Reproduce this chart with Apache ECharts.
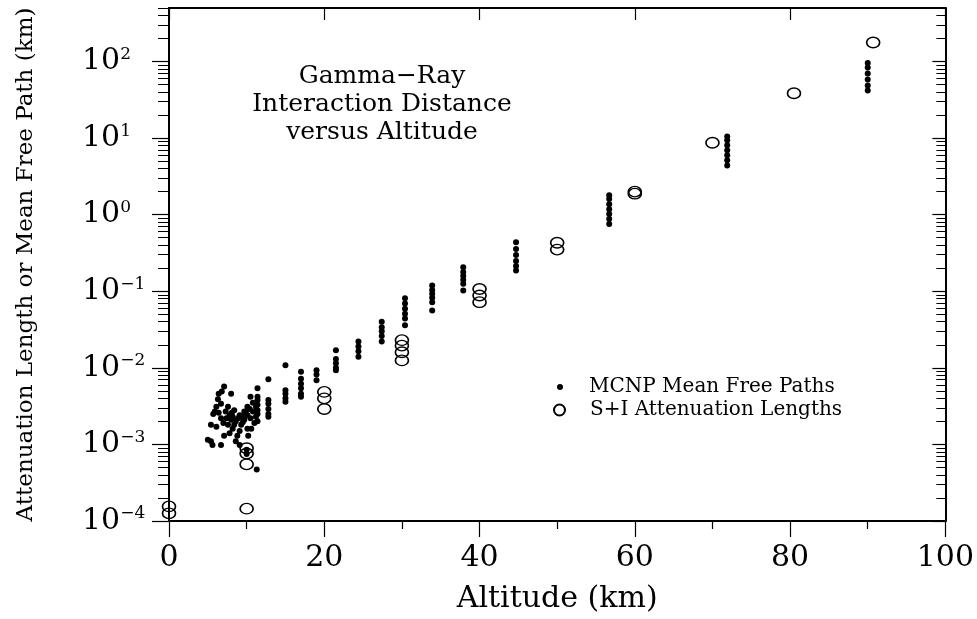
<!DOCTYPE html>
<html>
<head>
<meta charset="utf-8">
<script src="https://cdn.jsdelivr.net/npm/echarts@6/dist/echarts.min.js"></script>
<style>
  html, body { margin: 0; padding: 0; background: #fff; }
  #chart { width: 977px; height: 619px; }
</style>
</head>
<body>
<div id="chart"></div>
<script>
  // MCNP mean free paths (dots)
  const mcnpAlt = [
    7.1, 6.8, 8.0, 11.4, 6.3, 6.7, 11.4, 10.5, 6.1, 7.6, 10.1, 11.2, 5.9, 7.3, 8.4, 9.7, 10.8, 11.4,
    7.8, 8.2, 9.1, 10.1, 6.7, 8.0, 8.6, 9.7, 10.5, 11.2, 5.4, 6.1, 7.6, 8.4, 9.3, 11.0, 8.2, 10.1,
    7.1, 7.8, 8.8, 5.4, 5.6, 6.7, 8.6, 9.1, 11.4, 10.6, 10.2, 5.0, 9.1, 11.3, 10.0, 10.0,
    8.9, 9.4, 9.9, 10.4, 7.4, 8.1, 9.5, 10.8, 11.4, 11.4, 11.4, 6.4, 7.0, 6.4, 5.7,
    12.8, 12.8, 12.8, 12.8, 12.8, 12.8,
    15.0, 15.0, 15.0, 15.0, 15.0,
    17.0, 17.0, 17.0, 17.0, 17.0, 17.0,
    19.0, 19.0, 19.0,
    21.5, 21.5, 21.5, 21.5, 21.5,
    24.4, 24.4, 24.4, 24.4,
    27.4, 27.4, 27.4, 27.4, 27.4,
    30.4, 30.4, 30.4, 30.4, 30.4, 30.4,
    33.9, 33.9, 33.9, 33.9, 33.9, 33.9,
    37.9, 37.9, 37.9, 37.9, 37.9, 37.9,
    44.7, 44.7, 44.7, 44.7, 44.7, 44.7,
    56.7, 56.7, 56.7, 56.7, 56.7, 56.7, 56.7,
    71.9, 71.9, 71.9, 71.9, 71.9, 71.9, 71.9,
    90.0, 90.0, 90.0, 90.0, 90.0, 90.0
  ];
  const mcnpLen = [
    5.7e-3, 4.9e-3, 4.6e-3, 5.4e-3, 3.9e-3, 3.4e-3, 4.2e-3, 4.2e-3, 3.1e-3, 3.1e-3, 3.1e-3, 3.1e-3, 2.7e-3, 2.7e-3, 2.8e-3, 2.7e-3, 2.7e-3, 2.8e-3,
    2.4e-3, 2.3e-3, 2.4e-3, 2.4e-3, 2.2e-3, 2.1e-3, 2.0e-3, 2.1e-3, 2.2e-3, 2.3e-3, 1.8e-3, 1.7e-3, 1.8e-3, 1.8e-3, 1.8e-3, 1.9e-3, 1.6e-3, 1.6e-3,
    1.3e-3, 1.4e-3, 1.3e-3, 1.1e-3, 9.8e-4, 9.8e-4, 1.1e-3, 9.8e-4, 3.8e-3, 1.6e-3, 1.3e-3, 1.15e-3, 1.5e-3, 4.7e-4, 8.5e-4, 7.5e-4,
    2.2e-3, 2.3e-3, 2.6e-3, 2.9e-3, 2.2e-3, 2.6e-3, 1.95e-3, 3.5e-3, 3.3e-3, 2.5e-3, 2.0e-3, 2.6e-3, 1.9e-3, 4.6e-3, 2.5e-3,
    7.1e-3, 3.8e-3, 3.4e-3, 2.9e-3, 2.5e-3, 2.3e-3,
    1.08e-2, 5.1e-3, 4.6e-3, 4.0e-3, 3.6e-3,
    8.9e-3, 7.2e-3, 6.2e-3, 5.4e-3, 4.6e-3, 4.2e-3,
    9.3e-3, 8.2e-3, 6.9e-3,
    1.7e-2, 1.3e-2, 1.15e-2, 1.0e-2, 9.3e-3,
    2.2e-2, 1.9e-2, 1.65e-2, 1.4e-2,
    4.0e-2, 3.4e-2, 3.0e-2, 2.6e-2, 2.2e-2,
    8.1e-2, 6.9e-2, 5.9e-2, 5.1e-2, 4.4e-2, 3.6e-2,
    0.119, 0.104, 0.093, 0.082, 0.072, 0.056,
    0.206, 0.179, 0.159, 0.141, 0.125, 0.102,
    0.435, 0.356, 0.298, 0.249, 0.214, 0.186,
    1.80, 1.60, 1.37, 1.18, 1.02, 0.877, 0.755,
    10.5, 9.35, 8.06, 6.94, 5.98, 5.14, 4.39,
    95.9, 83.5, 69.8, 58.3, 48.7, 41.9
  ];

  // S+I attenuation lengths (open circles)
  const siAlt = [0, 0, 10, 10, 10, 10, 20, 20, 20, 30, 30, 30, 30, 40, 40, 40, 50, 50, 60, 60, 70, 80.5, 90.7];
  const siLen = [1.55e-4, 1.26e-4, 1.45e-4, 8.9e-4, 7.6e-4, 5.5e-4, 4.85e-3, 4.0e-3, 2.9e-3,
                 2.3e-2, 1.95e-2, 1.6e-2, 1.25e-2, 0.107, 0.088, 0.072, 0.43, 0.35, 2.0, 1.88, 8.7, 38.5, 177];

  const yMajor = [1e-4, 1e-3, 1e-2, 1e-1, 1, 10, 100];
  const yMinor = [];
  yMajor.forEach(d => { for (let k = 2; k <= 9; k++) if (d * k <= 500) yMinor.push(d * k); });

  const font = 'DejaVu Serif';
  const ink = '#000';

  const mcnpData = mcnpAlt.map((a, i) => [a, mcnpLen[i]]);
  const siData = siAlt.map((a, i) => [a, siLen[i]]);

  const chart = echarts.init(document.getElementById('chart'));

  const logAxis = (extra) => Object.assign({
    type: 'log', logBase: 10, min: 1e-4, max: 500,
    splitLine: { show: false },
    axisLabel: { show: false },
    axisLine: { show: false },
  }, extra);

  const option = {
    animation: false,
    backgroundColor: '#fff',
    title: {
      text: 'Gamma\u2212Ray\nInteraction Distance\nversus Altitude',
      left: 377, top: 57, textAlign: 'center',
      textStyle: { fontFamily: font, fontSize: 25, fontWeight: 'normal', lineHeight: 28, color: ink }
    },
    legend: [
      {
        data: ['MCNP Mean Free Paths'], left: 557, top: 377, padding: 0,
        itemWidth: 6, itemHeight: 6, icon: 'circle',
        textStyle: { fontFamily: font, fontSize: 20, color: ink, padding: [0, 0, 0, 21] }
      },
      {
        data: ['S+I Attenuation Lengths'], left: 553, top: 400, padding: 0,
        itemWidth: 13, itemHeight: 11,
        textStyle: { fontFamily: font, fontSize: 20, color: ink, padding: [0, 0, 0, 19] }
      }
    ],
    grid: { left: 169, right: 26, top: 8, bottom: 96, containLabel: false },
    xAxis: [
      {
        type: 'value', position: 'bottom', min: 0, max: 100, interval: 20,
        name: 'Altitude (km)', nameLocation: 'middle', nameGap: 63,
        nameTextStyle: { fontFamily: font, fontSize: 30, color: ink },
        axisLine: { show: true, lineStyle: { color: ink, width: 2 } },
        axisTick: { show: true, inside: false, length: 16, lineStyle: { color: ink, width: 1.2 } },
        minorTick: { show: true, splitNumber: 2, length: 8, lineStyle: { color: ink, width: 1.2 } },
        axisLabel: { fontFamily: font, fontSize: 30, color: ink, margin: 22 },
        splitLine: { show: false }
      },
      {
        type: 'value', position: 'top', min: 0, max: 100, interval: 20,
        axisLine: { show: true, lineStyle: { color: ink, width: 2 } },
        axisTick: { show: true, inside: true, length: 12, lineStyle: { color: ink, width: 1.2 } },
        axisLabel: { show: false },
        splitLine: { show: false }
      }
    ],
    yAxis: [
      logAxis({
        position: 'left',
        name: 'Attenuation Length or Mean Free Path (km)', nameLocation: 'middle', nameGap: 131,
        nameTextStyle: { fontFamily: font, fontSize: 23, color: ink },
        axisLine: { show: true, lineStyle: { color: ink, width: 2 } },
        axisTick: { show: true, inside: false, length: 17, customValues: yMajor, lineStyle: { color: ink, width: 1.2 } },
        axisLabel: {
          show: true, customValues: yMajor, align: 'left', margin: 87,
          formatter: v => {
            const e = Math.round(Math.log10(v));
            return '{b|10}{e|' + (e < 0 ? '\u2212' + (-e) : e) + '}';
          },
          rich: {
            b: { fontFamily: font, fontSize: 30, color: ink },
            e: { fontFamily: font, fontSize: 17, color: ink, padding: [0, 0, 14, 0] }
          }
        }
      }),
      logAxis({
        position: 'left',
        axisTick: { show: true, inside: false, length: 11, customValues: yMinor, lineStyle: { color: ink, width: 1 } }
      }),
      logAxis({
        position: 'right',
        axisLine: { show: true, lineStyle: { color: ink, width: 2 } },
        axisTick: { show: true, inside: true, length: 13, customValues: yMajor, lineStyle: { color: ink, width: 1.2 } }
      }),
      logAxis({
        position: 'right',
        axisTick: { show: true, inside: true, length: 9, customValues: yMinor, lineStyle: { color: ink, width: 1 } }
      })
    ],
    series: [
      {
        name: 'MCNP Mean Free Paths', type: 'scatter', xAxisIndex: 0, yAxisIndex: 0,
        symbol: 'circle', symbolSize: 6, clip: false,
        itemStyle: { color: ink, opacity: 1 },
        data: mcnpData
      },
      {
        name: 'S+I Attenuation Lengths', type: 'scatter', xAxisIndex: 0, yAxisIndex: 0,
        symbol: 'circle', symbolSize: [13, 10.5], clip: false,
        itemStyle: { color: 'rgba(255,255,255,0)', borderColor: ink, borderWidth: 1.5, opacity: 1 },
        data: siData
      }
    ]
  };

  chart.setOption(option);
</script>
</body>
</html>
